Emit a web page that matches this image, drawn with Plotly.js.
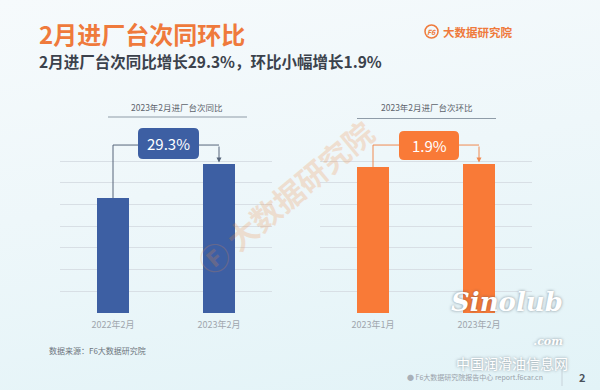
<!DOCTYPE html>
<html><head><meta charset="utf-8">
<script src="https://cdn.plot.ly/plotly-3.0.1.min.js"></script>
<style>
html,body{margin:0;padding:0;width:600px;height:390px;overflow:hidden;
background:linear-gradient(170deg,#f6fafc 0%,#eef7fa 45%,#e2f3f7 100%);}
#chart{width:600px;height:390px;}
</style></head><body><div id="chart"></div>
<script>
// ---- data ----
const yoyCategories = ['2022年2月', '2023年2月'];
const yoyValues = [5.3, 6.85];
const momCategories = ['2023年1月', '2023年2月'];
const momValues = [6.72, 6.85];
const yoyLabel = '29.3%';
const momLabel = '1.9%';
const gridTicks = [0, 1, 2, 3, 4, 5, 6, 7];

const W = 600, H = 390;
const px = x => x / W, py = y => 1 - y / H;
const FONT = '"Noto Sans CJK SC", "Noto Sans", sans-serif';
const BLUE = '#3d5fa3', ORANGE = '#f97a37';

function rr(x0, y0, x1, y1, r) {
  const P = (x, y) => px(x).toFixed(5) + ',' + py(y).toFixed(5);
  return 'M' + P(x0 + r, y0) + ' L' + P(x1 - r, y0) + ' Q' + P(x1, y0) + ' ' + P(x1, y0 + r) +
    ' L' + P(x1, y1 - r) + ' Q' + P(x1, y1) + ' ' + P(x1 - r, y1) +
    ' L' + P(x0 + r, y1) + ' Q' + P(x0, y1) + ' ' + P(x0, y1 - r) +
    ' L' + P(x0, y0 + r) + ' Q' + P(x0, y0) + ' ' + P(x0 + r, y0) + ' Z';
}

const traces = [
  {type: 'bar', x: yoyCategories, y: yoyValues, xaxis: 'x', yaxis: 'y', width: 0.31,
   marker: {color: BLUE}, hoverinfo: 'skip'},
  {type: 'bar', x: momCategories, y: momValues, xaxis: 'x2', yaxis: 'y2', width: 0.31,
   marker: {color: ORANGE}, hoverinfo: 'skip'}
];

const connY = 7.74;
const axisCommon = {
  range: [0, 10], tickvals: gridTicks, showticklabels: false, showgrid: true,
  gridcolor: '#d8dfe5', gridwidth: 1, zeroline: false, showline: false, fixedrange: true
};
const xCommon = {
  type: 'category', range: [-0.5, 1.5], showgrid: false, zeroline: false, showline: false,
  ticks: '', ticklabelstandoff: 5, tickfont: {family: FONT, size: 9, color: '#a0a6ad'}, fixedrange: true
};

const SH = '0px 0px 3px rgba(60,70,80,0.6)';
const layout = {
  width: W, height: H, margin: {l: 0, r: 0, t: 0, b: 0},
  paper_bgcolor: 'rgba(0,0,0,0)', plot_bgcolor: 'rgba(0,0,0,0)',
  showlegend: false, bargap: 0,
  xaxis: Object.assign({}, xCommon, {domain: [px(60), px(272)], anchor: 'y'}),
  yaxis: Object.assign({}, axisCommon, {domain: [py(313), py(96)], anchor: 'x'}),
  xaxis2: Object.assign({}, xCommon, {domain: [px(320), px(532)], anchor: 'y2'}),
  yaxis2: Object.assign({}, axisCommon, {domain: [py(313), py(96)], anchor: 'x2'}),
  shapes: [
    {type: 'line', xref: 'paper', yref: 'paper', x0: px(108), x1: px(247), y0: py(117), y1: py(117),
     line: {color: '#8f9ca8', width: 1.2}},
    {type: 'line', xref: 'paper', yref: 'paper', x0: px(357), x1: px(496), y0: py(118.5), y1: py(118.5),
     line: {color: '#8f9ca8', width: 1.2}},
    {type: 'line', xref: 'x', yref: 'y', x0: 0, x1: 0, y0: yoyValues[0], y1: connY, line: {color: '#56657a', width: 1}},
    {type: 'line', xref: 'x', yref: 'y', x0: 0, x1: 0.3, y0: connY, y1: connY, line: {color: '#56657a', width: 1}},
    {type: 'line', xref: 'x', yref: 'y', x0: 0.75, x1: 1, y0: connY, y1: connY, line: {color: '#56657a', width: 1}},
    {type: 'line', xref: 'x2', yref: 'y2', x0: 0, x1: 0, y0: momValues[0], y1: connY, line: {color: '#f08a50', width: 1}},
    {type: 'line', xref: 'x2', yref: 'y2', x0: 0, x1: 0.3, y0: connY, y1: connY, line: {color: '#f08a50', width: 1}},
    {type: 'line', xref: 'x2', yref: 'y2', x0: 0.75, x1: 1, y0: connY, y1: connY, line: {color: '#f08a50', width: 1}},
    {type: 'path', xref: 'paper', yref: 'paper', path: rr(138, 128, 199, 159, 5), fillcolor: BLUE, line: {width: 0}},
    {type: 'path', xref: 'paper', yref: 'paper', path: rr(399, 131, 459, 160, 5), fillcolor: ORANGE, line: {width: 0}},
    {type: 'circle', xref: 'paper', yref: 'paper', x0: px(425), x1: px(438), y0: py(25), y1: py(38),
     line: {color: '#ef7a3c', width: 1.5}},
    {type: 'line', xref: 'paper', yref: 'paper', x0: px(562), x1: px(562), y0: py(366), y1: py(386),
     line: {color: '#c8d3da', width: 1}}
  ],
  annotations: [
    {xref: 'paper', yref: 'paper', x: px(37), y: py(33), xanchor: 'left', yanchor: 'middle', showarrow: false,
     text: '2月进厂台次同环比', font: {family: FONT, size: 24, color: '#ef7a3c', weight: 700}},
    {xref: 'paper', yref: 'paper', x: px(37), y: py(61), xanchor: 'left', yanchor: 'middle', showarrow: false,
     text: '2月进厂台次同比增长29.3%，环比小幅增长1.9%', font: {family: FONT, size: 15.5, color: '#3b424c', weight: 700}},
    {xref: 'paper', yref: 'paper', x: px(441), y: py(31.5), xanchor: 'left', yanchor: 'middle', showarrow: false,
     text: '大数据研究院', font: {family: FONT, size: 11.5, color: '#ef7a3c', weight: 700}},
    {xref: 'paper', yref: 'paper', x: px(431.5), y: py(31.5), xanchor: 'center', yanchor: 'middle', showarrow: false,
     text: '<i>F6</i>', font: {family: FONT, size: 7, color: '#ef7a3c', weight: 700}},
    {xref: 'paper', yref: 'paper', x: px(177), y: py(107), xanchor: 'center', yanchor: 'middle', showarrow: false,
     text: '2023年2月进厂台次同比', font: {family: FONT, size: 8.5, color: '#5d646c'}},
    {xref: 'paper', yref: 'paper', x: px(427), y: py(107), xanchor: 'center', yanchor: 'middle', showarrow: false,
     text: '2023年2月进厂台次环比', font: {family: FONT, size: 8.5, color: '#5d646c'}},
    {xref: 'paper', yref: 'paper', x: px(168.5), y: py(143.5), xanchor: 'center', yanchor: 'middle', showarrow: false,
     text: yoyLabel, font: {family: FONT, size: 15, color: '#ffffff'}},
    {xref: 'paper', yref: 'paper', x: px(429), y: py(145.5), xanchor: 'center', yanchor: 'middle', showarrow: false,
     text: momLabel, font: {family: FONT, size: 15, color: '#ffffff'}},
    {xref: 'x', yref: 'y', axref: 'x', ayref: 'y', x: 1, y: yoyValues[1] + 0.08, ax: 1, ay: connY,
     showarrow: true, arrowhead: 2, arrowsize: 1, arrowwidth: 1, arrowcolor: '#56657a', text: ''},
    {xref: 'x2', yref: 'y2', axref: 'x2', ayref: 'y2', x: 1, y: momValues[1] + 0.08, ax: 1, ay: connY,
     showarrow: true, arrowhead: 2, arrowsize: 1, arrowwidth: 1, arrowcolor: '#f08a50', text: ''},
    {xref: 'paper', yref: 'paper', x: px(285), y: py(197), xanchor: 'center', yanchor: 'middle', showarrow: false,
     textangle: -40, text: 'Ⓕ 大数据研究院', opacity: 0.22,
     font: {family: FONT, size: 30, color: '#f08a40', weight: 700}},
    {xref: 'paper', yref: 'paper', x: px(47), y: py(350), xanchor: 'left', yanchor: 'middle', showarrow: false,
     text: '数据来源：F6大数据研究院', font: {family: FONT, size: 8, color: '#6d747c'}},
    {xref: 'paper', yref: 'paper', x: px(545), y: py(377), xanchor: 'right', yanchor: 'middle', showarrow: false,
     text: '<span style="color:#a8b0b8">●</span> F6大数据研究院报告中心 report.f6car.cn', font: {family: FONT, size: 7, color: '#9aa2aa'}},
    {xref: 'paper', yref: 'paper', x: px(582), y: py(377), xanchor: 'center', yanchor: 'middle', showarrow: false,
     text: '2', font: {family: FONT, size: 11, color: '#4a525c', weight: 700}},
    {xref: 'paper', yref: 'paper', x: px(565), y: py(350), xanchor: 'right', yanchor: 'bottom', showarrow: false,
     align: 'right',
     text: '<i>Sinolub</i><br><span style="font-size:11px"><i>.com</i></span>',
     font: {family: '"DejaVu Serif", serif', size: 26, color: '#ffffff', weight: 700, shadow: SH}},
    {xref: 'paper', yref: 'paper', x: px(512), y: py(351), xanchor: 'center', yanchor: 'top', showarrow: false,
     text: '中国润滑油信息网', font: {family: FONT, size: 14, color: '#ffffff', shadow: SH}}
  ]
};

Plotly.newPlot('chart', traces, layout, {displayModeBar: false, staticPlot: true});
</script></body></html>
